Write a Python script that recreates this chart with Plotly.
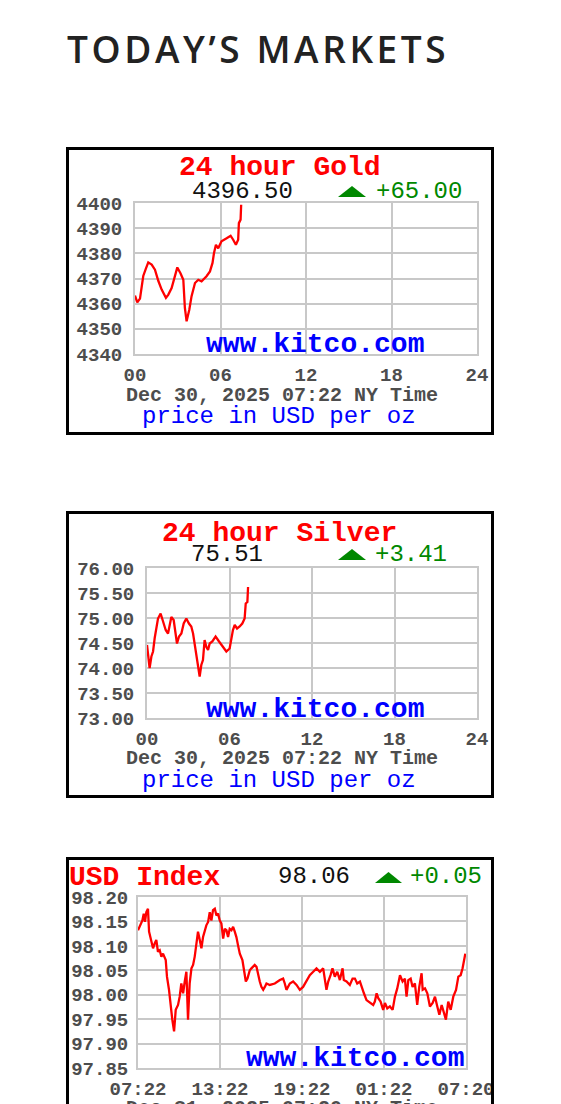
import plotly.graph_objects as go

W, H = 561, 1104
OFF = 8  # default body margin of the html page

# ---------------- data ----------------
gold_hours = [0.00, 0.16, 0.35, 0.47, 0.58, 0.77, 0.93, 1.17, 1.40, 1.64, 1.87, 2.17, 2.34, 2.57,
              2.80, 2.97, 3.20, 3.39, 3.50, 3.62, 3.81, 3.97, 4.21, 4.44, 4.67, 4.84, 5.02, 5.26,
              5.44, 5.54, 5.68, 5.84, 6.07, 6.43, 6.71, 6.89, 7.08, 7.24, 7.29, 7.41, 7.45]
gold_price = [4363.2, 4360.5, 4362.0, 4367.0, 4371.0, 4374.0, 4376.4, 4375.5, 4373.5, 4369.0,
              4365.6, 4362.3, 4363.6, 4366.2, 4371.0, 4374.4, 4372.0, 4369.5, 4358.3, 4353.0,
              4357.6, 4363.0, 4368.2, 4369.5, 4368.9, 4369.8, 4370.9, 4372.8, 4376.2, 4380.0,
              4383.4, 4382.0, 4384.8, 4386.0, 4387.0, 4385.4, 4383.4, 4385.4, 4392.0, 4393.4, 4399.3]

silver_hours = [0.00, 0.10, 0.19, 0.32, 0.44, 0.56, 0.68, 0.80, 0.99, 1.16, 1.36, 1.53, 1.65, 1.77,
                1.94, 2.08, 2.18, 2.33, 2.50, 2.67, 2.86, 3.05, 3.22, 3.35, 3.47, 3.59, 3.71, 3.83,
                3.95, 4.07, 4.19, 4.32, 4.44, 4.56, 4.75, 4.99, 5.24, 5.48, 5.77, 6.01, 6.13, 6.25,
                6.38, 6.55, 6.74, 6.93, 7.10, 7.18, 7.30, 7.35]
silver_price = [74.46, 74.20, 74.00, 74.23, 74.33, 74.60, 74.79, 74.99, 75.09, 74.92, 74.76, 74.69,
                74.86, 75.02, 74.96, 74.63, 74.49, 74.63, 74.69, 74.89, 74.99, 74.89, 74.83, 74.69,
                74.46, 74.20, 74.00, 73.83, 74.06, 74.16, 74.56, 74.42, 74.36, 74.49, 74.53, 74.63,
                74.53, 74.43, 74.33, 74.39, 74.63, 74.76, 74.86, 74.79, 74.83, 74.89, 74.99, 75.29,
                75.32, 75.62]

usd_hours = [0.00, 0.17, 0.32, 0.42, 0.51, 0.61, 0.73, 0.81, 0.98, 1.10, 1.22, 1.34, 1.46, 1.59,
             1.71, 1.83, 2.03, 2.12, 2.27, 2.39, 2.51, 2.64, 2.76, 2.93, 3.05, 3.17, 3.30, 3.42,
             3.54, 3.66, 3.78, 3.91, 4.03, 4.15, 4.27, 4.39, 4.52, 4.64, 4.76, 4.88, 5.00, 5.13,
             5.25, 5.37, 5.49, 5.62, 5.74, 5.86, 5.98, 6.10, 6.23, 6.35, 6.47, 6.59, 6.71, 6.84,
             6.96, 7.08, 7.20, 7.32, 7.45, 7.64, 7.74, 7.89, 8.01, 8.18, 8.30, 8.42, 8.54, 8.67,
             8.79, 8.91, 9.03, 9.16, 9.28, 9.40, 9.64, 10.01, 10.38, 10.62, 10.74, 10.86, 11.11,
             11.35, 11.60, 11.84, 12.08, 12.33, 12.57, 12.82, 13.06, 13.31, 13.55, 13.79, 13.92,
             14.09, 14.23, 14.40, 14.58, 14.77, 14.97, 15.06, 15.26, 15.50, 15.70, 15.87, 16.04,
             16.24, 16.36, 16.53, 16.72, 16.97, 17.21, 17.33, 17.46, 17.58, 17.75, 17.94, 18.07,
             18.24, 18.43, 18.63, 18.80, 18.97, 19.17, 19.36, 19.53, 19.65, 19.78, 19.95, 20.09,
             20.26, 20.43, 20.58, 20.75, 20.83, 21.00, 21.17, 21.36, 21.56, 21.73, 21.90, 22.05,
             22.22, 22.34, 22.53, 22.70, 22.88, 23.07, 23.27, 23.44, 23.61, 23.75, 23.85, 23.95]
usd_index = [98.132, 98.142, 98.152, 98.166, 98.149, 98.169, 98.176, 98.129, 98.112, 98.095,
             98.105, 98.112, 98.088, 98.091, 98.078, 98.084, 98.071, 98.037, 98.010, 97.976,
             97.949, 97.925, 97.969, 97.979, 97.996, 98.023, 98.003, 98.027, 98.047, 97.949,
             98.023, 98.054, 98.061, 98.078, 98.108, 98.129, 98.112, 98.095, 98.118, 98.132,
             98.142, 98.149, 98.169, 98.152, 98.173, 98.176, 98.162, 98.166, 98.152, 98.146,
             98.115, 98.135, 98.132, 98.118, 98.135, 98.132, 98.139, 98.129, 98.118, 98.101,
             98.084, 98.071, 98.050, 98.027, 98.033, 98.050, 98.054, 98.057, 98.061, 98.057,
             98.040, 98.027, 98.016, 98.010, 98.016, 98.023, 98.020, 98.023, 98.030, 98.033,
             98.023, 98.010, 98.023, 98.027, 98.020, 98.010, 98.016, 98.027, 98.040, 98.047,
             98.054, 98.047, 98.054, 98.010, 98.027, 98.040, 98.054, 98.037, 98.047, 98.030,
             98.054, 98.030, 98.027, 98.020, 98.033, 98.033, 98.023, 98.027, 98.016, 98.003,
             97.989, 97.983, 97.979, 97.986, 98.003, 97.993, 97.986, 97.969, 97.983, 97.972,
             97.976, 97.969, 97.996, 98.013, 98.040, 98.027, 98.033, 97.996, 98.030, 98.033,
             98.016, 98.023, 97.979, 98.016, 98.044, 98.010, 98.013, 98.003, 97.976, 97.983,
             97.996, 97.976, 97.959, 97.979, 97.966, 97.949, 97.986, 97.969, 97.996, 98.010,
             98.037, 98.040, 98.054, 98.071, 98.084]

hour_ticks = [0, 6, 12, 18, 24]
hour_labels = ["00", "06", "12", "18", "24"]
usd_time_labels = ["07:22", "13:22", "19:22", "01:22", "07:20"]

gold_range = [4340, 4400]
silver_range = [73.0, 76.0]
usd_range = [97.85, 98.20]

# ---------------- helpers (page pixel -> paper) ----------------
def px(x):
    return (x - OFF) / W

def py(y):
    return 1 - (y - OFF) / H

MONO = "Liberation Mono, Courier New, monospace"
GRID = "#c8c8c8"
TICK_GREY = "#4d4d4d"
RED = "#ff0000"
GREEN = "#008800"
BLUE = "#0000ff"

fig = go.Figure()

fig.add_trace(go.Scatter(x=gold_hours, y=gold_price, mode="lines",
                         line=dict(color=RED, width=2.3), xaxis="x", yaxis="y", showlegend=False))
fig.add_trace(go.Scatter(x=silver_hours, y=silver_price, mode="lines",
                         line=dict(color=RED, width=2.3), xaxis="x2", yaxis="y2", showlegend=False))
fig.add_trace(go.Scatter(x=usd_hours, y=usd_index, mode="lines",
                         line=dict(color=RED, width=2.3), xaxis="x3", yaxis="y3", showlegend=False))


def xax(domain, anchor, ticktext):
    return dict(domain=domain, anchor=anchor, range=[0, 24], tickvals=hour_ticks, ticktext=ticktext,
                showgrid=True, gridcolor=GRID, gridwidth=2, showline=True, linecolor=GRID,
                linewidth=2, mirror=True, zeroline=False, ticks="outside", ticklen=2,
                tickcolor="rgba(0,0,0,0)", automargin=False,
                tickfont=dict(family=MONO, size=19, color=TICK_GREY, weight="bold"),
                fixedrange=True)


def yax(domain, anchor, rng, dtick, fmt, ticklen):
    return dict(domain=domain, anchor=anchor, range=rng, dtick=dtick, tick0=rng[0], tickformat=fmt,
                showgrid=True, gridcolor=GRID, gridwidth=2, showline=True, linecolor=GRID,
                linewidth=2, mirror=True, zeroline=False, ticks="outside", ticklen=ticklen,
                tickcolor="rgba(0,0,0,0)", automargin=False,
                tickfont=dict(family=MONO, size=19, color=TICK_GREY, weight="bold"),
                fixedrange=True)


fig.update_layout(
    template="none",
    width=W, height=H, margin=dict(l=0, r=0, t=0, b=0, pad=0, autoexpand=False),
    paper_bgcolor="white", plot_bgcolor="white",
    xaxis=xax([px(135), px(477)], "y", hour_labels),
    yaxis=yax([py(354), py(203)], "x", gold_range, 10, "d", 7),
    xaxis2=xax([px(147), px(477)], "y2", hour_labels),
    yaxis2=yax([py(718), py(568)], "x2", silver_range, 0.5, ".2f", 7),
    xaxis3=xax([px(138), px(466)], "y3", usd_time_labels),
    yaxis3=yax([py(1068), py(897)], "x3", usd_range, 0.05, ".2f", 4),
)

shapes = []
# black frames around each chart image
for (x0, y0, x1, y1) in [(67.5, 148.5, 492.5, 433.5), (67.5, 512.5, 492.5, 796.5),
                         (67.5, 858.5, 492.5, 1125)]:
    shapes.append(dict(type="rect", xref="paper", yref="paper", x0=px(x0), x1=px(x1),
                       y0=py(y1), y1=py(y0), line=dict(color="black", width=3),
                       fillcolor="rgba(0,0,0,0)", layer="above"))


def tri(xl, xr, yt, yb):
    xm = (xl + xr) / 2
    return dict(type="path", xref="paper", yref="paper",
                path=f"M {px(xl)} {py(yb)} L {px(xr)} {py(yb)} L {px(xm)} {py(yt)} Z",
                fillcolor=GREEN, line=dict(width=0))


shapes += [tri(338, 366, 186, 197), tri(338, 366, 549, 560), tri(375, 402, 872, 883)]
fig.update_layout(shapes=shapes)

ann = []


def text(t, x, y, size, color, bold=False, family=MONO, xanchor="center"):
    ann.append(dict(text=t, x=px(x), y=py(y), xref="paper", yref="paper", showarrow=False,
                    xanchor=xanchor, yanchor="middle",
                    font=dict(family=family, size=size, color=color,
                              weight="bold" if bold else "normal")))


# heading
ann.append(dict(text='<span style="letter-spacing:3.6px">TODAY’S MARKETS</span>',
                x=px(65), y=py(48), xref="paper", yref="paper",
                showarrow=False, xanchor="left", yanchor="middle",
                font=dict(family="Open Sans", size=37, color="#222222", weight=600)))

# gold
text("24 hour Gold", 280, 168, 28, RED, bold=True)
text("4396.50", 242, 191, 24, "#111111")
text("+65.00", 419, 191, 24, GREEN)
text("www.kitco.com", 315, 345, 28, BLUE, bold=True)
text("Dec 30, 2025 07:22 NY Time", 282, 395, 20, TICK_GREY, bold=True)
text("price in USD per oz", 279, 416, 24, BLUE)

# silver
text("24 hour Silver", 279, 533, 28, RED, bold=True)
text("75.51", 227, 554, 24, "#111111")
text("+3.41", 411, 554, 24, GREEN)
text("www.kitco.com", 315, 709, 28, BLUE, bold=True)
text("Dec 30, 2025 07:22 NY Time", 282, 758, 20, TICK_GREY, bold=True)
text("price in USD per oz", 279, 780, 24, BLUE)

# usd
text("USD Index", 67, 877, 28, RED, bold=True, xanchor="left")
text("98.06", 314, 876, 24, "#111111")
text("+0.05", 446, 876, 24, GREEN)
text("www.kitco.com", 355, 1058, 28, BLUE, bold=True)
text("Dec 31, 2025 07:20 NY Time", 282, 1108, 20, TICK_GREY, bold=True)

fig.update_layout(annotations=ann)

fig.write_html("out.html", config=dict(displayModeBar=False))
